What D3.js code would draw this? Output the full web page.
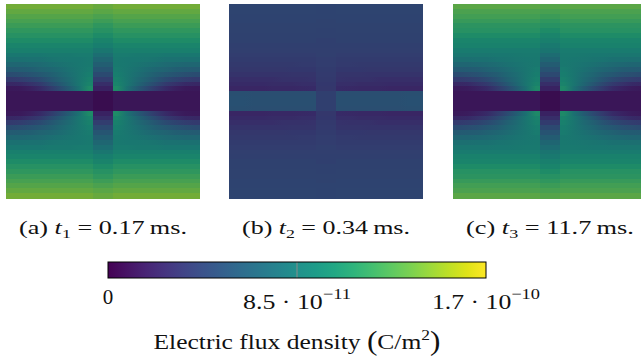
<!DOCTYPE html>
<html>

<head>
  <title>Electric flux density</title>
  <script src="https://cdn.jsdelivr.net/npm/d3@7"></script>
  <style>
    body { margin: 0; background: #fff; }
    text { font-family: "Liberation Serif", "DejaVu Serif", serif; fill: #111; }
    .cell { shape-rendering: crispEdges; }
  </style>
</head>

<body>
  <svg width="641" height="358" id="mainsvg"></svg>
  <script>
    const svg = d3.select('#mainsvg');
    const defs = svg.append('defs');

    // captions
    const panelLetters = ['(a)', '(b)', '(c)'];
    const panelSubs = ['1', '2', '3'];
    const panelTimes = ['0.17', '0.34', '11.7'];

    // colour bar, values in 1e-11 C/m^2
    const fluxMax = 17;
    const cbTicks = [0, 8.5, 17];
    const cbMantissa = ['0', '8.5', '1.7'];
    const cbExponent = [null, '−11', '−10'];

    // upper-left quarter of each field (mirrored to the other quarters), 1e-11 C/m^2
    // rows: top edge -> centre band (last 2 rows are the band), cols: left edge -> centre strip (last col)
    const fieldA = [
      [14.1, 14.1, 14.1, 14.1, 14.1, 14.1, 14.1, 14.1, 14.1, 13.8],
      [13.6, 13.6, 13.6, 13.6, 13.6, 13.6, 13.6, 13.6, 13.6, 13.3],
      [13.1, 13.1, 13.1, 13.1, 13.1, 13.1, 13.1, 13.1, 13.1, 12.8],
      [12.6, 12.6, 12.6, 12.6, 12.6, 12.6, 12.6, 12.6, 12.6, 12.2],
      [12.1, 12.1, 12.1, 12.1, 12.1, 12.1, 12.1, 12.1, 12.1, 11.6],
      [11.6, 11.6, 11.6, 11.6, 11.6, 11.6, 11.6, 11.6, 11.6, 11.1],
      [11.1, 11.1, 11.1, 11.1, 11.1, 11.1, 11.1, 11.1, 11.1, 10.5],
      [10.5, 10.5, 10.5, 10.5, 10.5, 10.5, 10.5, 10.5, 10.5, 9.9],
      [10.0, 10.0, 10.0, 10.0, 10.0, 10.0, 10.0, 10.0, 10.0, 9.4],
      [9.5, 9.5, 9.5, 9.5, 9.5, 9.5, 9.5, 9.5, 9.5, 8.7],
      [8.8, 8.8, 8.8, 8.8, 9.0, 9.0, 9.0, 9.2, 9.2, 8.0],
      [8.2, 8.2, 8.3, 8.3, 8.5, 8.7, 8.8, 8.8, 9.0, 7.3],
      [7.3, 7.3, 7.5, 7.7, 8.0, 8.3, 8.5, 8.8, 9.0, 6.6],
      [6.3, 6.5, 6.6, 7.0, 7.3, 7.8, 8.3, 8.7, 9.2, 5.8],
      [5.1, 5.3, 5.6, 6.1, 6.6, 7.3, 8.0, 8.7, 9.4, 4.9],
      [3.7, 3.9, 4.4, 4.9, 5.8, 6.8, 7.7, 8.7, 9.7, 3.9],
      [2.4, 2.6, 3.1, 3.7, 4.8, 6.0, 7.3, 8.7, 10.0, 2.9],
      [1.4, 1.5, 1.9, 2.6, 3.6, 4.9, 6.5, 8.3, 10.5, 2.0],
      [1.2, 1.2, 1.2, 1.2, 1.2, 1.2, 1.2, 1.2, 1.2, 0.7],
      [1.2, 1.2, 1.2, 1.2, 1.2, 1.2, 1.2, 1.2, 1.2, 0.7]
    ];
    const fieldB = [
      [4.5, 4.5, 4.5, 4.5, 4.5, 4.5, 4.5, 4.5, 4.5, 4.4],
      [4.5, 4.5, 4.5, 4.5, 4.5, 4.5, 4.5, 4.5, 4.5, 4.4],
      [4.4, 4.4, 4.4, 4.4, 4.4, 4.4, 4.4, 4.4, 4.4, 4.4],
      [4.4, 4.4, 4.4, 4.4, 4.4, 4.4, 4.4, 4.4, 4.4, 4.3],
      [4.3, 4.3, 4.3, 4.3, 4.3, 4.3, 4.3, 4.3, 4.3, 4.3],
      [4.3, 4.3, 4.3, 4.3, 4.3, 4.3, 4.3, 4.3, 4.3, 4.2],
      [4.2, 4.2, 4.2, 4.2, 4.2, 4.2, 4.2, 4.2, 4.2, 4.2],
      [4.2, 4.2, 4.2, 4.2, 4.2, 4.2, 4.2, 4.2, 4.2, 4.1],
      [4.1, 4.1, 4.1, 4.1, 4.1, 4.1, 4.1, 4.1, 4.1, 4.1],
      [4.0, 4.0, 4.0, 4.0, 4.0, 4.0, 4.0, 4.0, 4.0, 4.0],
      [3.9, 3.9, 3.9, 3.9, 3.9, 3.9, 3.9, 3.9, 3.9, 4.0],
      [3.8, 3.8, 3.8, 3.8, 3.8, 3.8, 3.8, 3.8, 3.8, 3.9],
      [3.6, 3.6, 3.6, 3.6, 3.6, 3.6, 3.6, 3.7, 3.7, 3.9],
      [3.4, 3.4, 3.4, 3.4, 3.4, 3.4, 3.5, 3.5, 3.5, 3.8],
      [3.2, 3.2, 3.2, 3.2, 3.2, 3.2, 3.3, 3.3, 3.3, 3.7],
      [2.9, 2.9, 2.9, 2.9, 2.9, 3.0, 3.0, 3.0, 3.1, 3.6],
      [2.6, 2.6, 2.6, 2.6, 2.7, 2.7, 2.7, 2.8, 2.8, 3.5],
      [2.3, 2.3, 2.3, 2.3, 2.4, 2.4, 2.4, 2.5, 2.6, 3.4],
      [5.3, 5.3, 5.2, 5.2, 5.2, 5.2, 5.2, 5.2, 5.2, 4.1],
      [5.4, 5.4, 5.3, 5.3, 5.3, 5.3, 5.3, 5.3, 5.3, 4.1]
    ];
    const fieldC = [
      [13.3, 13.3, 13.3, 13.3, 13.3, 13.3, 13.3, 13.3, 13.3, 13.1],
      [12.8, 12.8, 12.8, 12.8, 12.8, 12.8, 12.8, 12.8, 12.8, 12.6],
      [12.4, 12.4, 12.4, 12.4, 12.4, 12.4, 12.4, 12.4, 12.4, 12.1],
      [11.9, 11.9, 11.9, 11.9, 11.9, 11.9, 11.9, 11.9, 11.9, 11.6],
      [11.4, 11.4, 11.4, 11.4, 11.4, 11.4, 11.4, 11.4, 11.4, 11.1],
      [11.1, 11.1, 11.1, 11.1, 11.1, 11.1, 11.1, 11.1, 11.1, 10.5],
      [10.5, 10.5, 10.5, 10.5, 10.5, 10.5, 10.5, 10.5, 10.5, 10.0],
      [10.0, 10.0, 10.0, 10.0, 10.0, 10.0, 10.0, 10.0, 10.0, 9.5],
      [9.7, 9.7, 9.7, 9.7, 9.7, 9.7, 9.7, 9.7, 9.7, 9.0],
      [9.2, 9.2, 9.2, 9.2, 9.2, 9.2, 9.2, 9.2, 9.2, 8.5],
      [8.7, 8.7, 8.7, 8.7, 8.8, 8.8, 8.9, 9.0, 9.0, 7.9],
      [8.1, 8.1, 8.2, 8.2, 8.4, 8.5, 8.7, 8.8, 8.9, 7.2],
      [7.2, 7.2, 7.4, 7.6, 7.9, 8.2, 8.4, 8.7, 8.9, 6.5],
      [6.2, 6.4, 6.5, 6.9, 7.2, 7.7, 8.2, 8.6, 9.1, 5.7],
      [5.0, 5.2, 5.5, 6.0, 6.5, 7.2, 7.9, 8.6, 9.3, 4.8],
      [3.7, 3.9, 4.3, 4.8, 5.7, 6.7, 7.6, 8.6, 9.6, 3.8],
      [2.4, 2.6, 3.1, 3.7, 4.7, 5.9, 7.2, 8.6, 9.9, 2.8],
      [1.5, 1.6, 2.0, 2.6, 3.6, 4.8, 6.4, 8.2, 10.4, 2.0],
      [1.3, 1.3, 1.3, 1.3, 1.3, 1.3, 1.3, 1.3, 1.3, 0.7],
      [1.3, 1.3, 1.3, 1.3, 1.3, 1.3, 1.3, 1.3, 1.3, 0.7]
    ];
    const fields = [fieldA, fieldB, fieldC];

    const panelSize = 194;
    const panelTop = 4;
    const panelLeft = [6, 229, 453];
    const nRows = fieldA.length * 2;
    const nCols = fieldA[0].length * 2;
    const nOuter = fieldA[0].length - 1;

    // viridis, slightly dimmed as in the rendered fields
    const cbColor = d3.scaleSequential(d3.interpolateViridis).domain([0, fluxMax]);
    const fieldColor = v => d3.rgb(cbColor(v)).darker(0.62).formatHex();

    const xCell = d3.scaleBand().domain(d3.range(nCols)).range([0, panelSize]);
    const yCell = d3.scaleBand().domain(d3.range(nRows)).range([0, panelSize]);
    const stripX = xCell(nOuter);
    const stripW = xCell.bandwidth() * 2;
    // sample positions of the outer columns inside the row gradient
    const stopAt = d3.scaleLinear().domain([0, nOuter]).range([0, 1]);

    fields.forEach((quarter, i) => {
      // one horizontal gradient per quarter row (and its mirror)
      quarter.forEach((row, qr) => {
        [['L', 0, 1], ['R', 1, 0]].forEach(([side, x1, x2]) => {
          defs.append('linearGradient')
            .attr('id', `f${i}r${qr}${side}`)
            .attr('x1', x1).attr('x2', x2).attr('y1', 0).attr('y2', 0)
            .selectAll('stop').data(row.slice(0, nOuter)).join('stop')
            .attr('offset', (d, c) => stopAt(c + 0.5))
            .attr('stop-color', d => fieldColor(d));
        });
      });

      const rows = d3.range(nRows).map(r => {
        const qr = r < nRows / 2 ? r : nRows - 1 - r;
        return { r, qr, strip: quarter[qr][nOuter] };
      });

      const g = svg.append('g')
        .attr('transform', `translate(${panelLeft[i]}, ${panelTop})`);
      const rowG = g.selectAll('g').data(rows).join('g')
        .attr('transform', d => `translate(0, ${yCell(d.r)})`);
      const h = yCell.bandwidth() + 0.6;
      rowG.append('rect').attr('class', 'cell')
        .attr('x', 0).attr('width', stripX + 0.6).attr('height', h)
        .attr('fill', d => `url(#f${i}r${d.qr}L)`);
      rowG.append('rect').attr('class', 'cell')
        .attr('x', stripX + stripW - 0.6).attr('width', panelSize - stripX - stripW + 0.6).attr('height', h)
        .attr('fill', d => `url(#f${i}r${d.qr}R)`);
      rowG.append('rect').attr('class', 'cell')
        .attr('x', stripX).attr('width', stripW).attr('height', h)
        .attr('fill', d => fieldColor(d.strip));

      // caption
      const cap = svg.append('text')
        .attr('x', panelLeft[i] + panelSize / 2)
        .attr('y', 234)
        .attr('text-anchor', 'middle')
        .attr('font-size', 19)
        .attr('textLength', 168)
        .attr('lengthAdjust', 'spacingAndGlyphs');
      cap.append('tspan').text(panelLetters[i] + ' ');
      cap.append('tspan').attr('font-style', 'italic').text('t');
      cap.append('tspan').attr('font-size', 13).attr('dy', 4).text(panelSubs[i]);
      cap.append('tspan').attr('dy', -4).text('\u2005=\u2005' + panelTimes[i] + '\u2009ms.');
    });

    // colour bar
    const cbX = d3.scaleLinear().domain([0, fluxMax]).range([108, 486]);
    const cbTop = 262, cbH = 16;
    const grad = defs.append('linearGradient').attr('id', 'cbgrad');
    grad.selectAll('stop').data(d3.range(0, 1.0001, 0.05)).join('stop')
      .attr('offset', d => d)
      .attr('stop-color', d => d3.interpolateViridis(d));
    svg.append('rect')
      .attr('x', cbX(0)).attr('y', cbTop)
      .attr('width', cbX(fluxMax) - cbX(0)).attr('height', cbH)
      .attr('fill', 'url(#cbgrad)');
    svg.append('line')
      .attr('x1', cbX(cbTicks[1])).attr('x2', cbX(cbTicks[1]))
      .attr('y1', cbTop).attr('y2', cbTop + cbH)
      .attr('stroke', '#8a8a8a').attr('stroke-width', 1);
    svg.append('rect')
      .attr('x', cbX(0)).attr('y', cbTop)
      .attr('width', cbX(fluxMax) - cbX(0)).attr('height', cbH)
      .attr('fill', 'none').attr('stroke', '#000').attr('stroke-width', 1);

    cbTicks.forEach((t, i) => {
      const lab = svg.append('text')
        .attr('x', cbX(t))
        .attr('y', cbExponent[i] ? 309 : 304)
        .attr('text-anchor', 'middle')
        .attr('font-size', 21);
      if (cbExponent[i]) {
        lab.attr('textLength', 108).attr('lengthAdjust', 'spacingAndGlyphs');
        lab.append('tspan').text(cbMantissa[i] + ' · 10');
        lab.append('tspan').attr('font-size', 15).attr('dy', -10).text(cbExponent[i]);
      } else {
        lab.text(cbMantissa[i]);
      }
    });

    const axisLabel = svg.append('text')
      .attr('x', cbX(fluxMax / 2))
      .attr('y', 349)
      .attr('text-anchor', 'middle')
      .attr('font-size', 22)
      .attr('textLength', 287)
      .attr('lengthAdjust', 'spacingAndGlyphs');
    axisLabel.append('tspan').text('Electric flux density ');
    axisLabel.append('tspan').attr('font-size', 27).attr('dy', 1).text('(');
    axisLabel.append('tspan').attr('dy', -1).text('C/m');
    axisLabel.append('tspan').attr('font-size', 15).attr('dy', -9).text('2');
    axisLabel.append('tspan').attr('font-size', 27).attr('dy', 10).text(')');
  </script>
</body>

</html>
